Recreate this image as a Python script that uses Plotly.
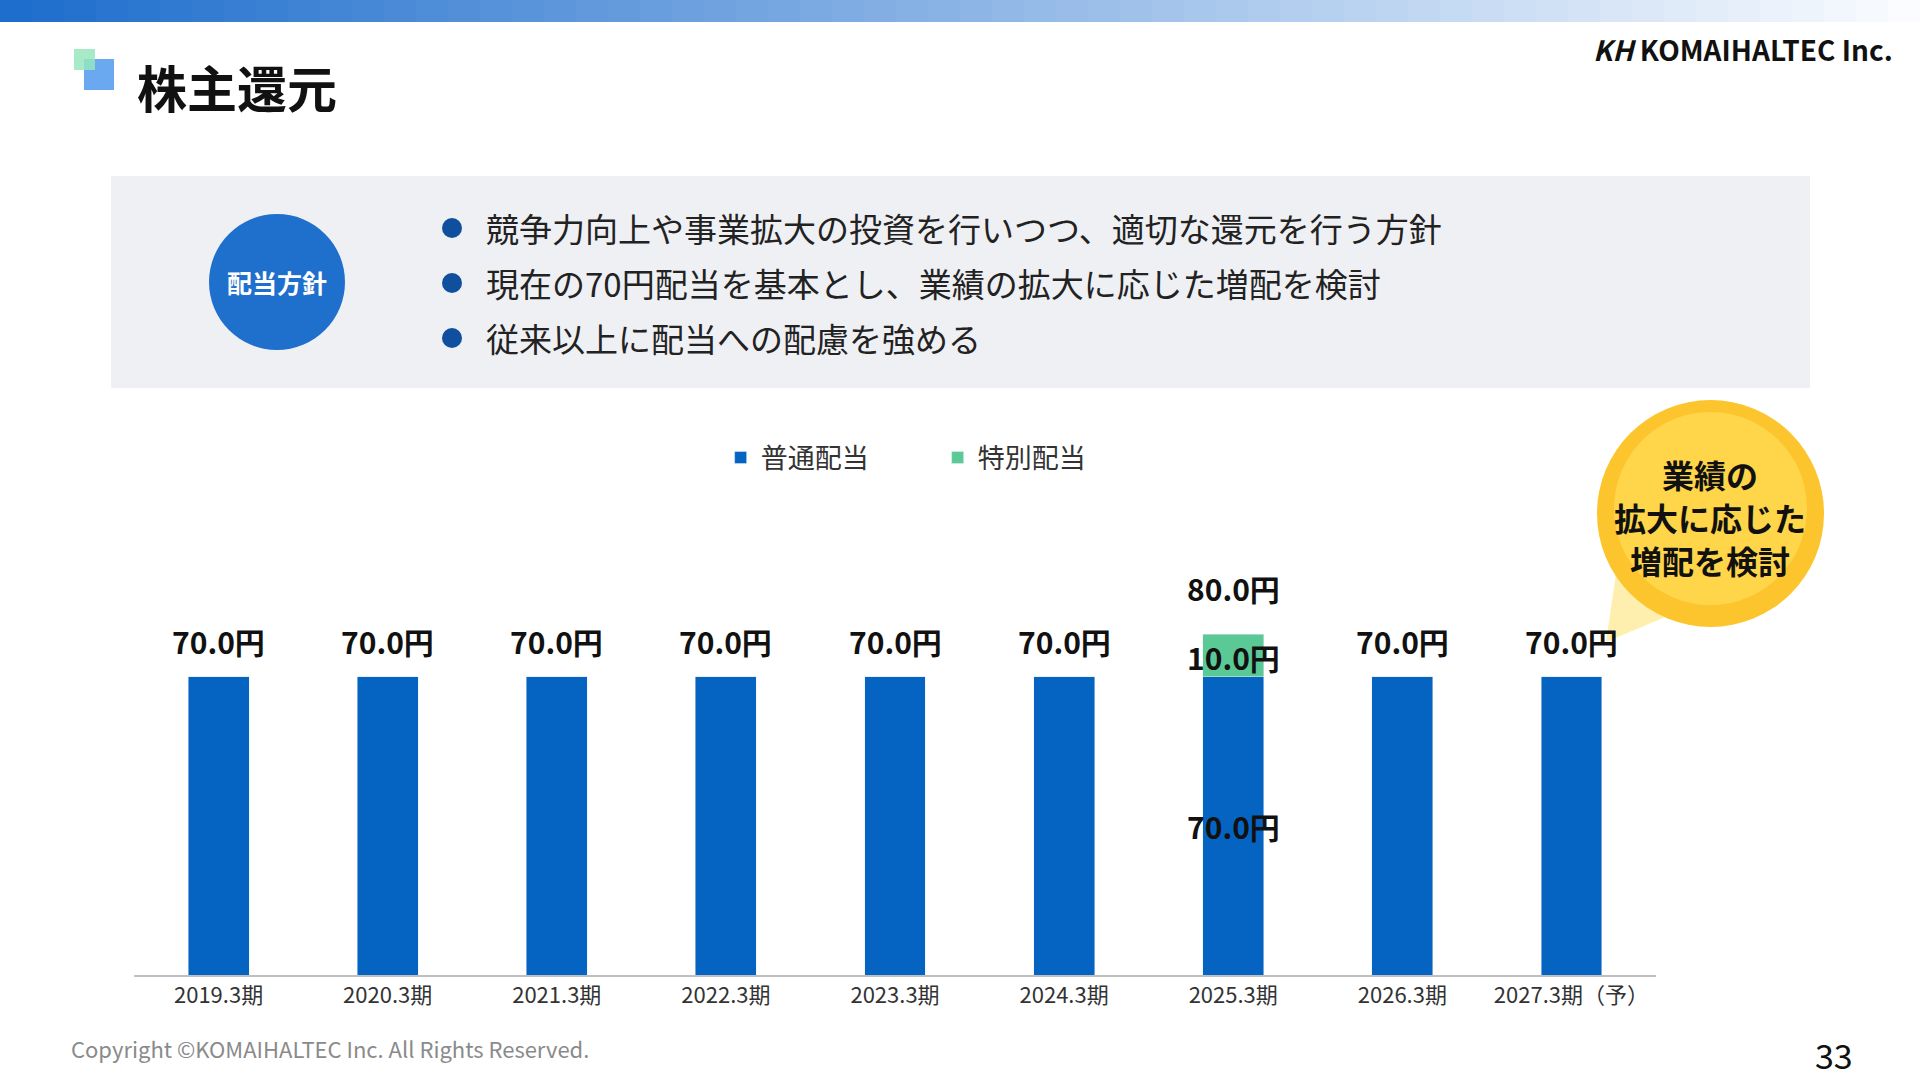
import plotly.graph_objects as go

# data
periods = ['2019.3期', '2020.3期', '2021.3期', '2022.3期', '2023.3期',
           '2024.3期', '2025.3期', '2026.3期', '2027.3期（予）']
regular = [70, 70, 70, 70, 70, 70, 70, 70, 70]
special = [0, 0, 0, 0, 0, 0, 10, 0, 0]

bullets = ['競争力向上や事業拡大の投資を行いつつ、適切な還元を行う方針',
           '現在の70円配当を基本とし、業績の拡大に応じた増配を検討',
           '従来以上に配当への配慮を強める']

FONT = 'Noto Sans CJK JP'
BLUE = '#0563c1'
GREEN = '#5bc995'

fig = go.Figure()
fig.add_trace(go.Bar(x=periods, y=regular, name='普通配当', marker_color=BLUE))
fig.add_trace(go.Bar(x=periods, y=special, name='特別配当', marker_color=GREEN))

W, H = 1920, 1080
L, R, T, B = 134, 1656, 560, 975
ymax = 97.4

fig.update_layout(
    width=W, height=H, barmode='stack', bargap=0.64,
    plot_bgcolor='white', paper_bgcolor='white',
    font=dict(family=FONT, color='#222'),
    margin=dict(l=L, r=W - R, t=T, b=H - B, autoexpand=False),
    showlegend=True,
    legend=dict(orientation='h', xref='container', yref='container',
                x=(725 + 1085) / 2 / W + 0.017, xanchor='center',
                y=1 - 458 / H, yanchor='middle',
                font=dict(size=27, color='#333'),
                itemwidth=30, entrywidth=172, traceorder='normal'),
)
fig.update_xaxes(showline=True, linecolor='#bfbfbf', linewidth=2, ticks='',
                 tickfont=dict(size=22, color='#333'))
fig.update_yaxes(range=[0, ymax], visible=False)

# data labels
for p, r, s in zip(periods, regular, special):
    tot = r + s
    if s:
        fig.add_annotation(x=p, y=tot, text='<b>%.1f円</b>' % tot, showarrow=False,
                           yanchor='bottom', yshift=22, font=dict(size=30, color='#111'))
        fig.add_annotation(x=p, y=r + s / 2, text='<b>%.1f円</b>' % s, showarrow=False,
                           yshift=-2, font=dict(size=30, color='#111'))
        fig.add_annotation(x=p, y=r / 2, text='<b>%.1f円</b>' % r, showarrow=False,
                           font=dict(size=30, color='#111'))
    else:
        fig.add_annotation(x=p, y=tot, text='<b>%.1f円</b>' % tot, showarrow=False,
                           yanchor='bottom', yshift=12, font=dict(size=30, color='#111'))


def px(x0, y0, x1, y1):
    # pixel coords -> paper coords
    return dict(x0=(x0 - L) / (R - L), x1=(x1 - L) / (R - L),
                y0=(B - y1) / (B - T), y1=(B - y0) / (B - T))


x0p = lambda x: (x - L) / (R - L)
y0p = lambda y: (B - y) / (B - T)

shapes = []
# top gradient bar
n = 60
for i in range(n):
    t = i / (n - 1)
    col = 'rgb(%d,%d,%d)' % tuple(int(a + (b - a) * t) for a, b in zip((30, 110, 205), (250, 252, 255)))
    shapes.append(dict(type='rect', xref='paper', yref='paper', line_width=0,
                       fillcolor=col, **px(i * W / n, 0, (i + 1) * W / n + 1, 22)))
# title icon
shapes.append(dict(type='rect', xref='paper', yref='paper', line_width=0,
                   fillcolor='#6aa8f0', **px(84, 59, 114, 90)))
shapes.append(dict(type='rect', xref='paper', yref='paper', line_width=0,
                   fillcolor='rgba(150,230,190,0.85)', **px(74, 49, 95, 70)))
# grey box
shapes.append(dict(type='rect', xref='paper', yref='paper', line_width=0,
                   fillcolor='#eff0f4', **px(111, 176, 1810, 388)))
# policy circle
shapes.append(dict(type='circle', xref='paper', yref='paper', line_width=0,
                   fillcolor='#1f6fcc', **px(209, 214, 345, 350)))
for k in range(3):
    y = 228 + 55 * k
    shapes.append(dict(type='circle', xref='paper', yref='paper', line_width=0,
                       fillcolor='#0f4f9e', **px(442, y - 10, 462, y + 10)))
# yellow bubble tail and circle
shapes.append(dict(type='path', xref='paper', yref='paper', line_width=0,
                   fillcolor='rgba(255,225,110,0.55)',
                   path='M %f %f L %f %f L %f %f Z' % (x0p(1606), y0p(642), x0p(1618), y0p(560),
                                                      x0p(1682), y0p(610))))
shapes.append(dict(type='circle', xref='paper', yref='paper', line_width=0,
                   fillcolor='#fcc52e', **px(1597, 400, 1824, 627)))
shapes.append(dict(type='circle', xref='paper', yref='paper', line_width=0,
                   fillcolor='#ffd54a', **px(1614, 412, 1807, 605)))
fig.update_layout(shapes=shapes)


def text(x, y, s, size, color='#111', xanchor='left', bold=False):
    fig.add_annotation(xref='paper', yref='paper', x=x0p(x), y=y0p(y), text=('<b>%s</b>' % s) if bold else s,
                       showarrow=False, xanchor=xanchor, yanchor='middle',
                       font=dict(size=size, color=color, family=FONT))


text(135, 86, '株主還元', 50, bold=True)
text(1895, 49, '<i>KH</i> KOMAIHALTEC Inc.', 28, color='#111', xanchor='right', bold=True)
text(277, 282, '配当方針', 25, color='white', xanchor='center', bold=True)
for k, s in enumerate(bullets):
    text(484, 228 + 55 * k, s, 33, color='#222')
for k, s in enumerate(['業績の', '拡大に応じた', '増配を検討']):
    text(1710, 474 + 43 * k, s, 32, color='#111', xanchor='center', bold=True)
text(69, 1048, 'Copyright ©KOMAIHALTEC Inc. All Rights Reserved.', 22, color='#8a8a8a')
text(1855, 1054, '33', 34, color='#111', xanchor='right')

fig.write_html('out.html', config={'displayModeBar': False},
               post_script="document.body.style.margin='0';document.body.style.overflow='hidden';")
